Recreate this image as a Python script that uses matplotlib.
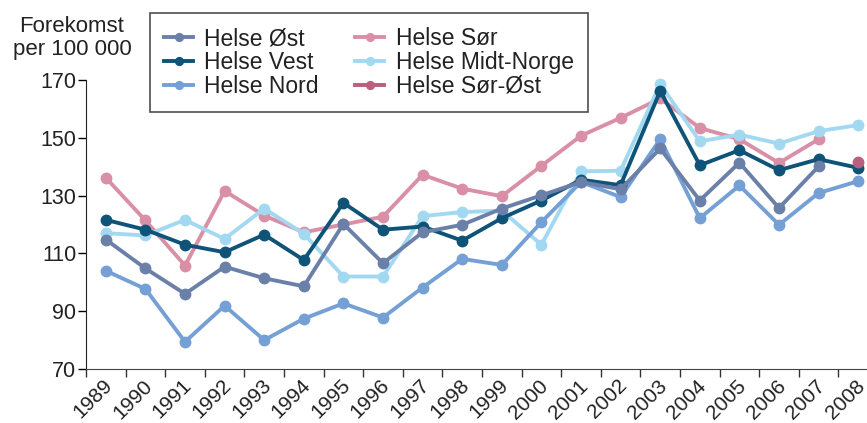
import matplotlib
matplotlib.use("Agg")
import matplotlib.pyplot as plt
import matplotlib.transforms as mtrans
import numpy as np

plt.rcParams['font.family'] = ['Liberation Sans', 'DejaVu Sans']

years = [str(y) for y in range(1989, 2009)]

helse_ost = [114.8, 104.8, 96.0, 105.4, 101.4, 98.6, 120.2, 106.6, 117.3, 119.9,
             125.5, 130.1, 134.7, 132.2, 146.3, 128.3, 141.4, 125.7, 140.1, None]
helse_vest = [121.6, 118.2, 113.0, 110.4, 116.5, 107.7, 127.5, 118.2, 119.3, 114.4,
              122.2, 128.3, 135.5, 133.6, 166.2, 140.5, 145.7, 138.8, 142.6, 139.6]
helse_nord = [104.0, 97.7, 79.4, 91.9, 80.0, 87.4, 92.7, 87.8, 98.2, 108.1,
              106.0, 120.8, 134.7, 129.5, 149.5, 122.2, 133.5, 119.9, 130.9, 135.0]
helse_sor = [136.2, 121.4, 105.8, 131.6, 123.1, 117.3, 120.0, 122.7, 137.2, 132.4,
             129.8, 140.3, 150.7, 156.9, 163.6, 153.4, 149.5, 141.3, 149.5, None]
helse_midt = [117.0, 116.2, 121.6, 115.0, 125.5, 116.8, 102.0, 102.0, 122.9, 124.3,
              124.8, 113.0, 138.4, 138.6, 168.6, 148.8, 151.1, 148.0, 152.3, 154.4]
helse_sorost = [None] * 19 + [141.6]

series = [
    ("Helse Sør", helse_sor, "#d990a7"),
    ("Helse Midt-Norge", helse_midt, "#a2d9f1"),
    ("Helse Nord", helse_nord, "#75a0d6"),
    ("Helse Vest", helse_vest, "#0f5378"),
    ("Helse Øst", helse_ost, "#6b80a8"),
    ("Helse Sør-Øst", helse_sorost, "#b9607f"),
]
legend_order = ["Helse Øst", "Helse Vest", "Helse Nord",
                "Helse Sør", "Helse Midt-Norge", "Helse Sør-Øst"]

W, H = 867, 423
fig = plt.figure(figsize=(W / 100, H / 100), dpi=100)
ax = fig.add_axes([86 / W, 1 - 369 / H, 792 / W, 289 / H])

x = np.arange(len(years))
handles = {}
for name, vals, col in series:
    v = np.array([np.nan if a is None else a for a in vals], dtype=float)
    h, = ax.plot(x, v, color=col, lw=2.8, marker='o', ms=7.5, mec=col,
                 mfc=col, label=name, clip_on=False, solid_joinstyle='round')
    handles[name] = h

ax.set_xlim(-0.5, len(years) - 0.5)
ax.set_ylim(70, 170)
ax.set_yticks([70, 90, 110, 130, 150, 170])
ax.set_xticks(np.arange(len(years) + 1) - 0.5, minor=False)
ax.set_xticklabels([])
ax.set_xticks(x, minor=True)
ax.set_xticklabels(years, minor=True, rotation=45, ha='right', va='top',
                   rotation_mode='anchor', fontsize=15, color='#222222')
ax.tick_params(axis='x', which='minor', length=0, pad=5)
ax.tick_params(axis='x', which='major', direction='out', length=6, width=1, color='#333333')
ax.tick_params(axis='y', direction='out', length=6, width=1, labelsize=15.5,
               pad=1, labelcolor='#222222')
offset = mtrans.ScaledTranslation(-3 / 100, 0, fig.dpi_scale_trans)
for lab in ax.get_xticklabels(minor=True):
    lab.set_transform(lab.get_transform() + offset)

ax.spines['top'].set_visible(False)
ax.spines['right'].set_visible(False)
ax.spines['left'].set_color('#222222')
ax.spines['bottom'].set_color('#444444')

fig.text(72 / W, 1 - 38 / H, "Forekomst\nper 100 000", ha='center', va='center',
         fontsize=16, linespacing=1.17, color='#222222')

leg = fig.legend([handles[n] for n in legend_order], legend_order,
                 loc='upper left', bbox_to_anchor=(150 / W, 1 - 13 / H),
                 ncol=2, frameon=True, fancybox=False, fontsize=16.5,
                 handlelength=1.25, handletextpad=0.5, columnspacing=1.6,
                 labelspacing=0.03, borderpad=0.62, borderaxespad=0,
                 markerscale=0.75)
leg.get_frame().set_edgecolor('#222222')
leg.get_frame().set_linewidth(1.2)
for t in leg.get_texts():
    t.set_color('#222222')

fig.savefig("out.png", dpi=100)
